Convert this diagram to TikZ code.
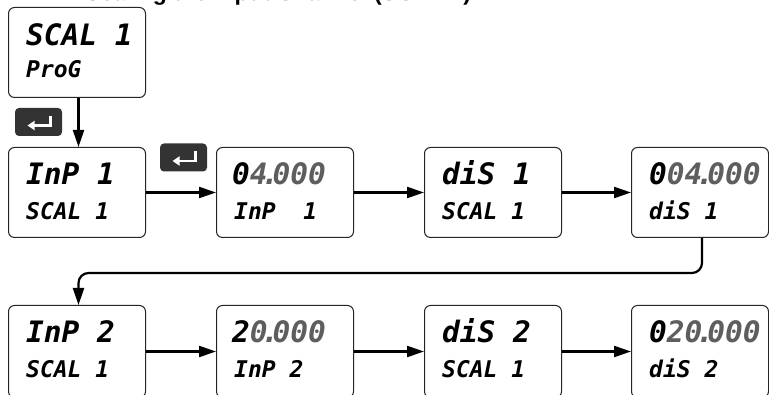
\documentclass[tikz,border=0pt]{standalone}
\usepackage{fontspec}
\setmainfont{Liberation Sans}
\newfontfamily\segfont{DejaVu Sans Mono Bold Oblique}
\usetikzlibrary{arrows.meta,calc}
\definecolor{dgray}{HTML}{5E5E5E}
\definecolor{keyfill}{HTML}{333333}
\newcommand\dotk{\kern-0.22em.\kern-0.22em}
\newcommand\segtop{\segfont\fontsize{29.5}{30}\selectfont}
\newcommand\segbot{\segfont\fontsize{23}{24}\selectfont}
\begin{document}
\begin{tikzpicture}[x=1pt,y=-1pt,
  disp/.style={draw=black!85, line width=1pt, rounded corners=6pt, minimum width=137pt, minimum height=90pt, anchor=north west, inner sep=0pt},
  ltop/.style={anchor=base west, inner sep=0pt, font=\segtop},
  lbot/.style={anchor=base west, inner sep=0pt, font=\segbot},
  conn/.style={line width=2.2pt, -{Triangle[length=17pt,width=11pt]}},
  keybox/.style={fill=keyfill, rounded corners=4pt, minimum width=47pt, minimum height=28pt, inner sep=0pt},
  keyarrow/.style={draw=white, line width=2.6pt, -{Triangle[length=7pt,width=9pt]}},
  ttlstyle/.style={anchor=base west, inner sep=0pt, font=\bfseries\fontsize{23}{24}\selectfont}]
\useasboundingbox (0,0) rectangle (769,395);
\clip (0,0) rectangle (769,395);
\fill[white] (0,0) rectangle (769,395);

\node[ttlstyle] (ttl) at (85,1) {Scaling the Input Channel (SCAL 1)};

% display boxes
\node[disp] (b1) at (8,7) {};
\node[disp] (b2) at (8,147) {};
\node[disp] (b3) at (216,147) {};
\node[disp] (b4) at (424,147) {};
\node[disp] (b5) at (631,147) {};
\node[disp, minimum height=92pt] (b6) at (8,305) {};
\node[disp, minimum height=92pt] (b7) at (216,305) {};
\node[disp, minimum height=92pt] (b8) at (424,305) {};
\node[disp, minimum height=92pt] (b9) at (631,305) {};

% display texts
\node[ltop] (t1) at ($(b1.north west)+(18,39)$) {SCAL 1};
\node[lbot] (u1) at ($(b1.north west)+(18,71)$) {ProG};
\node[ltop] (t2) at ($(b2.north west)+(18,38)$) {InP 1};
\node[lbot] (u2) at ($(b2.north west)+(18,73)$) {SCAL 1};
\node[ltop] (t3) at ($(b3.north west)+(16,38)$) {0\textcolor{dgray}{4\dotk000}};
\node[lbot] (u3) at ($(b3.north west)+(18,73)$) {InP\ \ 1};
\node[ltop] (t4) at ($(b4.north west)+(18,38)$) {diS 1};
\node[lbot] (u4) at ($(b4.north west)+(18,73)$) {SCAL 1};
\node[ltop] (t5) at ($(b5.north west)+(18,38)$) {0\textcolor{dgray}{04\dotk000}};
\node[lbot] (u5) at ($(b5.north west)+(18,73)$) {diS 1};
\node[ltop] (t6) at ($(b6.north west)+(18,38)$) {InP 2};
\node[lbot] (u6) at ($(b6.north west)+(18,73)$) {SCAL 1};
\node[ltop] (t7) at ($(b7.north west)+(16,38)$) {2\textcolor{dgray}{0\dotk000}};
\node[lbot] (u7) at ($(b7.north west)+(18,73)$) {InP 2};
\node[ltop] (t8) at ($(b8.north west)+(18,38)$) {diS 2};
\node[lbot] (u8) at ($(b8.north west)+(18,73)$) {SCAL 1};
\node[ltop] (t9) at ($(b9.north west)+(18,38)$) {0\textcolor{dgray}{20\dotk000}};
\node[lbot] (u9) at ($(b9.north west)+(18,73)$) {diS 2};

% enter keys
\node[keybox] (k1) at (38.5,122) {};
\node[keybox] (k2) at (183.5,157.5) {};
\draw[keyarrow] ($(k1.center)+(12,-6)$) -- ($(k1.center)+(12,3.5)$) -- ($(k1.center)+(-11,3.5)$);
\draw[keyarrow] ($(k2.center)+(12,-6)$) -- ($(k2.center)+(12,3.5)$) -- ($(k2.center)+(-11,3.5)$);

% connectors
\draw[conn] ([xshift=1.5pt]b1.south) -- ([xshift=1.5pt]b2.north);
\draw[conn] (b2.east) -- (b3.west);
\draw[conn] (b3.east) -- (b4.west);
\draw[conn] (b4.east) -- (b5.west);
\draw[conn, rounded corners=10pt] ([xshift=2pt]b5.south) -- ++(0,35) -| ([xshift=1.5pt]b6.north);
\draw[conn] (b6.east) -- (b7.west);
\draw[conn] (b7.east) -- (b8.west);
\draw[conn] (b8.east) -- (b9.west);
\end{tikzpicture}
\end{document}
